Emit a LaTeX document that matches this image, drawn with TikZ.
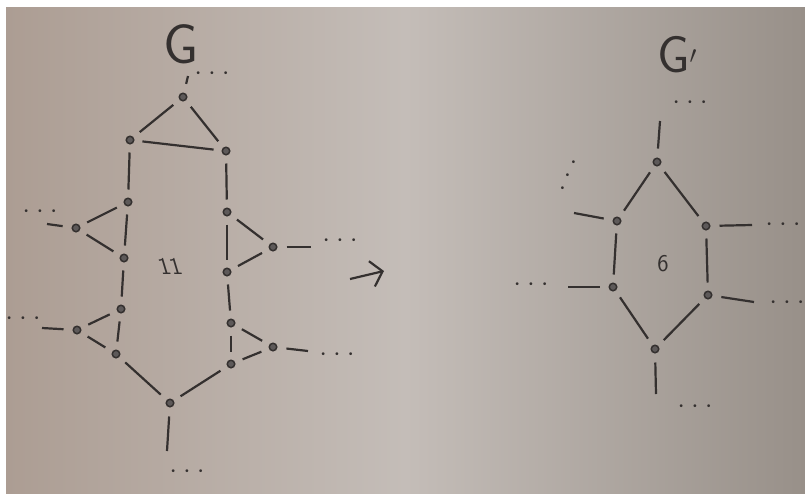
\documentclass[tikz,border=0pt]{standalone}
\usetikzlibrary{arrows.meta}
\definecolor{pencil}{HTML}{34302F}
\definecolor{paperL}{HTML}{AC9D93}
\definecolor{paperM}{HTML}{C4BDB8}
\definecolor{paperR}{HTML}{989089}
\newcommand{\mydots}{\textbullet\hspace{6pt}\textbullet\hspace{6pt}\textbullet}
\tikzset{
  vtx/.style={circle, draw=pencil, fill=pencil!80, line width=1.5pt, minimum size=7.5pt, inner sep=0pt},
  edge/.style={draw=pencil, line width=2.2pt, shorten >=8pt, shorten <=8pt},
  stub/.style={draw=pencil, line width=2.2pt, shorten <=9pt},
  ell/.style={text=pencil, font=\fontsize{10}{13}\selectfont, inner sep=0pt},
  lbl/.style={text=pencil, font=\sffamily\fontsize{24}{24}\selectfont, inner sep=0pt},
  big/.style={text=pencil, font=\sffamily\fontsize{56}{56}\selectfont, inner sep=0pt}
}
\begin{document}
\begin{tikzpicture}[x=1pt,y=-1pt]
\useasboundingbox (0,0) rectangle (805,493);
\fill[white] (0,0) rectangle (805,493);
\shade[left color=paperL, right color=paperR, middle color=paperM] (6,7) rectangle (805,493);

% ---------- G ----------
\node[big] (lG) at (181,44) {G};
\node[vtx] (T) at (183,97) {};
\node[vtx] (A) at (130,140) {};
\node[vtx] (B) at (226,151) {};
\node[vtx] (C) at (128,202) {};
\node[vtx] (D) at (227,212) {};
\node[vtx] (E) at (76,228) {};
\node[vtx] (F) at (273,247) {};
\node[vtx] (C2) at (124,258) {};
\node[vtx] (D2) at (227,272) {};
\node[vtx] (C3) at (121,309) {};
\node[vtx] (H) at (77,330) {};
\node[vtx] (C4) at (116,354) {};
\node[vtx] (D3) at (231,323) {};
\node[vtx] (K) at (273,347) {};
\node[vtx] (D4) at (231,364) {};
\node[vtx] (M) at (170,403) {};
\node[lbl, xslant=-0.3] (n11) at (170,266) {11};

\foreach \a/\b in {T/A,T/B,A/B,A/C,B/D,C/E,E/C2,C/C2,D/F,F/D2,D/D2,C2/C3,C3/H,H/C4,C3/C4,D2/D3,D3/K,D3/D4,D4/K,C4/M,M/D4}
  \draw[edge] (\a) -- (\b);

\coordinate (Ts) at (188,76);
\coordinate (Es) at (47,224);
\coordinate (Fs) at (311,247);
\coordinate (Hs) at (42,328);
\coordinate (Ks) at (308,351);
\coordinate (Ms) at (167,451);
\foreach \a in {T,E,F,H,K,M} \draw[stub] (\a) -- (\a s);
\node[ell] (dT) at (212,74) {\mydots};
\node[ell] (dE) at (40,212) {\mydots};
\node[ell] (dF) at (340,241) {\mydots};
\node[ell] (dH) at (23,319) {\mydots};
\node[ell] (dK) at (337,355) {\mydots};
\node[ell] (dM) at (187,472) {\mydots};

% ---------- arrow ----------
\coordinate (ar1) at (350,279);
\coordinate (ar2) at (384,271);
\draw[pencil, line width=2.2pt, -{Straight Barb[length=11pt,width=26pt]}] (ar1) -- (ar2);

% ---------- G' ----------
\node[big, font=\sffamily\fontsize{52}{52}\selectfont] (lG2) at (677,55) {G$'$};
\node[vtx] (P) at (657,162) {};
\node[vtx] (Q) at (617,221) {};
\node[vtx] (R) at (706,226) {};
\node[vtx] (S) at (613,287) {};
\node[vtx] (U) at (708,295) {};
\node[vtx] (V) at (655,349) {};
\node[lbl] (n6) at (663,264) {6};
\foreach \a/\b in {P/Q,P/R,Q/S,R/U,S/V,U/V}
  \draw[edge] (\a) -- (\b);
\coordinate (Ps) at (660,121);
\coordinate (Qs) at (574,213);
\coordinate (Rs) at (752,225);
\coordinate (Ss) at (568,287);
\coordinate (Us) at (754,302);
\coordinate (Vs) at (656,394);
\foreach \a in {P,Q,R,S,U,V} \draw[stub] (\a) -- (\a s);
\node[ell] (dP) at (690,103) {\mydots};
\node[ell, align=left] (dQ) at (568,176) {\hspace{11pt}\textbullet\\\hspace{5pt}\textbullet\\\textbullet};
\node[ell] (dR) at (783,225) {\mydots};
\node[ell] (dS) at (531,285) {\mydots};
\node[ell] (dU) at (787,303) {\mydots};
\node[ell] (dV) at (695,407) {\mydots};
\end{tikzpicture}
\end{document}
